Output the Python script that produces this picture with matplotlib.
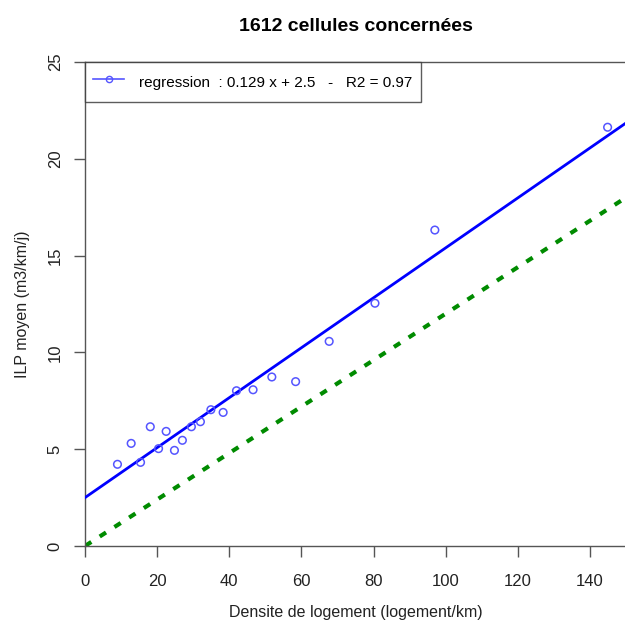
import matplotlib
matplotlib.use("Agg")
import matplotlib.pyplot as plt
from matplotlib.lines import Line2D
import numpy as np

plt.rcParams['font.family'] = ['Liberation Sans', 'DejaVu Sans']

# Housing density (logement/km) and mean ILP (m3/km/j) per class
densite = [9.0, 12.8, 15.4, 18.1, 20.4, 22.5, 24.8, 27.0, 29.5, 32.0, 34.9,
           38.3, 42.0, 46.6, 51.8, 58.4, 67.7, 80.4, 97.0, 144.9]
ilp = [4.22, 5.30, 4.32, 6.16, 5.03, 5.92, 4.94, 5.46, 6.16, 6.42, 7.04,
       6.90, 8.02, 8.07, 8.73, 8.49, 10.57, 12.54, 16.32, 21.63]

pente, ordonnee, r2 = 0.129, 2.5, 0.97
pente_ref = 0.12

x_ticks = [0, 20, 40, 60, 80, 100, 120, 140]
y_ticks = [0, 5, 10, 15, 20, 25]

W, H = 625, 622
fig = plt.figure(figsize=(W / 100, H / 100), dpi=100)
ax = fig.add_axes([85 / W, 1 - 546 / H, 541 / W, 484 / H])

axis_col = '#555555'
xs = np.array([0, 150])
ax.plot(xs, pente_ref * xs, color='#008B00', lw=3, ls=(0, (1.8, 2.4)),
        zorder=2)
ax.plot(xs, pente * xs + ordonnee, color='#0000ff', lw=2, zorder=3)
ax.scatter(densite, ilp, s=30, facecolors='none', edgecolors='#5555ff',
           linewidths=1.1, zorder=4)

ax.set_xlim(0, 150)
ax.set_ylim(0, 25)
ax.set_xticks(x_ticks)
ax.set_yticks(y_ticks)
ax.tick_params(direction='out', length=8, width=1, color=axis_col,
               labelsize=12, labelcolor='#222222')
ax.tick_params(axis='x', pad=12)
ax.tick_params(axis='y', pad=8)
for lab in ax.get_yticklabels():
    lab.set_rotation(90)
    lab.set_va('center')
for sp in ax.spines.values():
    sp.set_color(axis_col)
    sp.set_linewidth(1)

ax.set_title('1612 cellules concernées', fontsize=14, fontweight='bold',
             pad=22)
ax.set_xlabel('Densite de logement (logement/km)', fontsize=11.5,
              color='#222222', labelpad=12)
ax.set_ylabel('ILP moyen (m3/km/j)', fontsize=11.5, color='#222222',
              labelpad=13)

handle = Line2D([0], [0], color='#5555ff', lw=1.2, marker='o',
                markerfacecolor='none', markersize=4.5,
                markeredgecolor='#5555ff')
leg = ax.legend([handle], [f'regression  : {pente} x + {ordonnee}   -   R2 = {r2}'],
                loc='upper left', bbox_to_anchor=(0.0, 1.0), fontsize=11,
                frameon=True, fancybox=False, borderaxespad=0,
                handlelength=2.0, handletextpad=1.0, borderpad=0.55,
                handleheight=2.0)
leg.get_frame().set_edgecolor('#333333')
leg.get_frame().set_linewidth(1)

fig.savefig('out.png', dpi=100)
